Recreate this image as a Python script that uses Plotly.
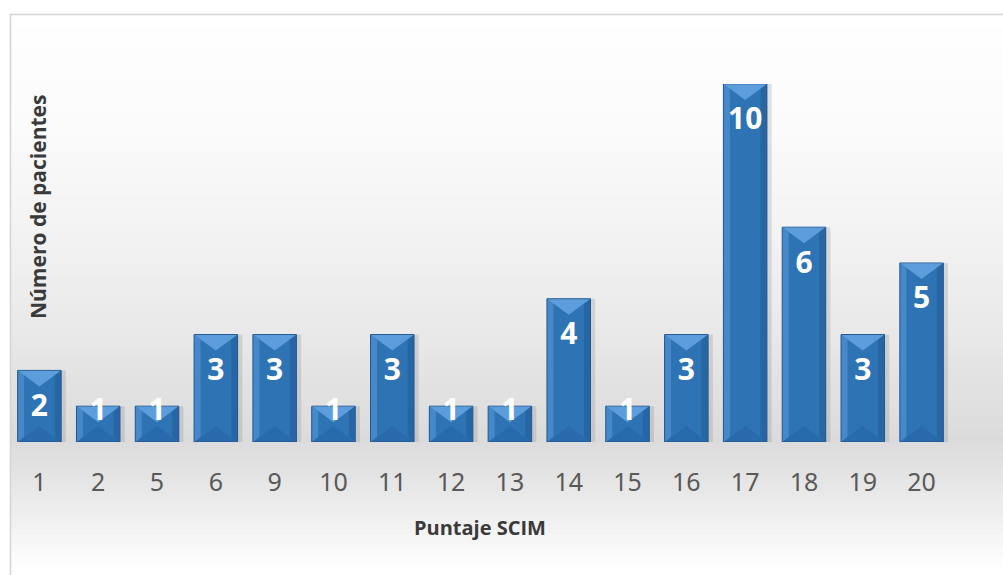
import numpy as np
import plotly.graph_objects as go

# ---- data ----
categories = ["1", "2", "5", "6", "9", "10", "11", "12", "13", "14", "15", "16", "17", "18", "19", "20"]
patients = [2, 1, 1, 3, 3, 1, 3, 1, 1, 4, 1, 3, 10, 6, 3, 5]
x_title = "Puntaje SCIM"
y_title = "Número de pacientes"

# ---- layout geometry (pixels) ----
W, H = 1003, 575
L, R, T, B = 10, 52, 84, 133
plot_top, plot_bot = T, H - B
ph = plot_bot - plot_top
pw = W - L - R


def py(p):
    return (plot_bot - p) / ph


def px(p):
    return (p - L) / pw


idx = np.arange(len(categories))
bw = 0.74
vals = np.array(patients, dtype=float)

fig = go.Figure()

# soft shadow
fig.add_trace(go.Bar(x=idx + 0.08, y=vals, width=bw, marker=dict(color="rgba(110,110,110,0.20)", line=dict(width=0)),
                     hoverinfo="skip", showlegend=False))
# main bars
fig.add_trace(go.Bar(x=idx, y=vals, width=bw, marker=dict(color="#2e74b5", line=dict(color="#1f5791", width=1)),
                     showlegend=False))

# bevel highlights (top triangle lighter, bottom triangle darker, side strips)
unit = ph / 10.0
d = 16 / unit
xs_top, ys_top, xs_bot, ys_bot, xs_l, ys_l, xs_r, ys_r = [], [], [], [], [], [], [], []
for i, v in zip(idx, vals):
    a, b = i - bw / 2 + 0.01, i + bw / 2 - 0.01
    xs_top += [a, b, i, a, None]
    ys_top += [v - 0.01, v - 0.01, v - d, v - 0.01, None]
    xs_bot += [a, b, i, a, None]
    ys_bot += [0.01, 0.01, d, 0.01, None]
    s = 0.1
    xs_l += [a, a + s, a + s, a, a, None]
    ys_l += [0.01, 0.01 + d * 0.3, v - d * 0.3, v - 0.01, 0.01, None]
    xs_r += [b, b - s, b - s, b, b, None]
    ys_r += [0.01, 0.01 + d * 0.3, v - d * 0.3, v - 0.01, 0.01, None]

fig.add_trace(go.Scatter(x=xs_l, y=ys_l, fill="toself", mode="lines", line=dict(width=0),
                         fillcolor="rgba(110,170,230,0.40)", hoverinfo="skip", showlegend=False))
fig.add_trace(go.Scatter(x=xs_r, y=ys_r, fill="toself", mode="lines", line=dict(width=0),
                         fillcolor="rgba(20,60,110,0.25)", hoverinfo="skip", showlegend=False))
fig.add_trace(go.Scatter(x=xs_top, y=ys_top, fill="toself", mode="lines", line=dict(width=0),
                         fillcolor="rgba(120,180,240,0.65)", hoverinfo="skip", showlegend=False))
fig.add_trace(go.Scatter(x=xs_bot, y=ys_bot, fill="toself", mode="lines", line=dict(width=0),
                         fillcolor="rgba(25,75,135,0.22)", hoverinfo="skip", showlegend=False))

# data labels
label_y = [max(v - 1.06, 0.82) for v in vals]
fig.add_trace(go.Scatter(x=idx, y=label_y, mode="text", text=[str(p) for p in patients],
                         textposition="middle center",
                         textfont=dict(family="Open Sans", size=30, color="white", weight="bold"),
                         hoverinfo="skip", showlegend=False))

# background gradient (wall + floor)
shapes = []
def lerp_col(stops, p):
    ps = [s[0] for s in stops]
    cs = [s[1] for s in stops]
    c = np.interp(p, ps, cs)
    g = int(round(c))
    return f"rgb({g},{g},{g})"

wall_stops = [(14, 255), (120, 251), (220, 244), (320, 234), (400, 224), (443, 218)]
floor_stops = [(443, 220), (480, 229), (520, 240), (560, 252), (575, 255)]
edges = np.linspace(14, 443, 60)
for a, b in zip(edges[:-1], edges[1:]):
    shapes.append(dict(type="rect", xref="paper", yref="paper", x0=px(10), x1=px(W + 5), y0=py(b + 0.6), y1=py(a),
                       fillcolor=lerp_col(wall_stops, (a + b) / 2), line=dict(width=0), layer="below"))
edges = np.linspace(443, 576, 30)
for a, b in zip(edges[:-1], edges[1:]):
    shapes.append(dict(type="rect", xref="paper", yref="paper", x0=px(10), x1=px(W + 5), y0=py(b + 0.6), y1=py(a),
                       fillcolor=lerp_col(floor_stops, (a + b) / 2), line=dict(width=0), layer="below"))
# outer border
shapes.append(dict(type="rect", xref="paper", yref="paper", x0=px(10.5), x1=px(W + 10), y0=py(H + 10), y1=py(14.5),
                   fillcolor="rgba(0,0,0,0)", line=dict(color="#d4d4d4", width=1.5), layer="below"))

annotations = [
    dict(text=x_title, xref="paper", yref="paper", x=px(480), y=py(527), showarrow=False,
         font=dict(family="Open Sans", size=20, color="#3a3a3a", weight="bold"), xanchor="center", yanchor="middle"),
    dict(text=y_title, xref="paper", yref="paper", x=px(38), y=py(207), showarrow=False, textangle=-90,
         font=dict(family="Open Sans", size=21, color="#3a3a3a", weight="bold"), xanchor="center", yanchor="middle"),
]

fig.update_layout(
    width=W, height=H,
    margin=dict(l=L, r=R, t=T, b=B, pad=0),
    paper_bgcolor="white",
    plot_bgcolor="rgba(0,0,0,0)",
    barmode="overlay",
    shapes=shapes,
    annotations=annotations,
    xaxis=dict(range=[-0.5, len(categories) - 0.5], tickmode="array", tickvals=list(idx), ticktext=categories,
               showgrid=False, zeroline=False, showline=False, ticks="outside", ticklen=18,
               tickcolor="rgba(0,0,0,0)",
               tickfont=dict(family="Noto Sans", size=25, color="#595959"), fixedrange=True),
    yaxis=dict(range=[0, 10], showgrid=False, zeroline=False, showline=False, showticklabels=False, ticks="",
               fixedrange=True),
)

fig.write_html("out.html")
